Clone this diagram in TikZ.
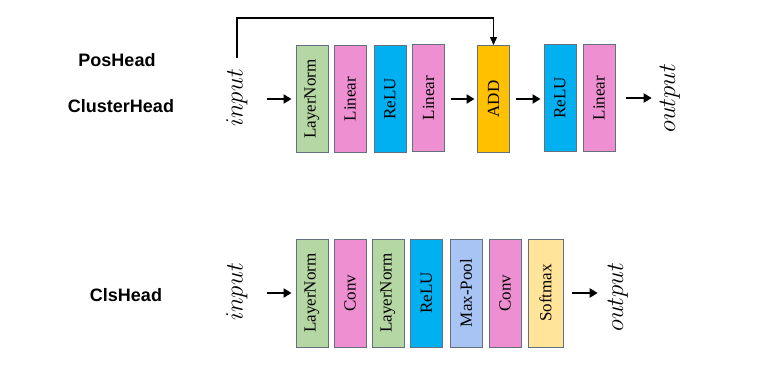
\documentclass[tikz,border=0pt]{standalone}
\usepackage{fontspec}
\setmainfont{Liberation Serif}
\newfontfamily\headfont{Liberation Sans}
\usetikzlibrary{arrows.meta}
\definecolor{boxline}{RGB}{100,112,126}
\definecolor{cgreen}{RGB}{181,215,164}
\definecolor{cpink}{RGB}{238,143,210}
\definecolor{cblue}{RGB}{0,176,240}
\definecolor{corange}{RGB}{255,192,0}
\definecolor{cpool}{RGB}{168,196,244}
\definecolor{csoft}{RGB}{255,228,153}
\begin{document}
\begin{tikzpicture}[x=1pt,y=1pt,
  blk/.style={draw=boxline, line width=0.9pt, minimum width=32pt, minimum height=107pt, inner sep=0pt, font=\fontsize{17}{20}\selectfont},
  arr/.style={-{Triangle[length=8pt,width=9pt]}, line width=2.2pt},
  fb/.style={-{Triangle[length=8pt,width=7pt]}, line width=1.2pt},
  head/.style={font=\headfont\bfseries\fontsize{18}{22}\selectfont, inner sep=0pt},
  io/.style={inner sep=0pt, font=\fontsize{24.88}{28}\selectfont}]
\useasboundingbox (0,0) rectangle (761,365);
% labels
\node[head] (h1) at (117,305) {PosHead};
\node[head] (h2) at (121,259) {ClusterHead};
\node[head] (h3) at (126,70) {ClsHead};
% top row
\node[io] (in1) at (237,267) {\rotatebox{90}{$input$}};
\node[blk, fill=cgreen] (a1) at (312,266) {\rotatebox{90}{LayerNorm}};
\node[blk, fill=cpink] (a2) at (350,266) {\rotatebox{90}{Linear}};
\node[blk, fill=cblue] (a3) at (390,266) {\rotatebox{90}{ReLU}};
\node[blk, fill=cpink] (a4) at (428.5,267) {\rotatebox{90}{Linear}};
\node[blk, fill=corange] (add) at (493.5,266) {\rotatebox{90}{ADD}};
\node[blk, fill=cblue] (a6) at (560,267) {\rotatebox{90}{ReLU}};
\node[blk, fill=cpink] (a7) at (599,267) {\rotatebox{90}{Linear}};
\node[io] (out1) at (670,267) {\rotatebox{90}{$output$}};
\coordinate (fbtop) at (237,347);
\draw[fb, shorten <=11pt] (in1.north) -- (in1.north |- fbtop) -| (add.north);
\draw[arr, shorten <=19pt, shorten >=4pt] (in1.east |- a1.west) -- (a1.west);
\draw[arr, shorten <=6.5pt, shorten >=2.5pt] (a4.east |- add.west) -- (add.west);
\draw[arr, shorten <=6.5pt, shorten >=3pt] (add.east) -- (a6.west |- add.east);
\draw[arr, shorten <=11pt, shorten >=8pt] (a7.east) -- (out1.west |- a7.east);
% bottom row
\node[io] (in2) at (237,73) {\rotatebox{90}{$input$}};
\node[blk, fill=cgreen, minimum height=108pt] (b1) at (312,72) {\rotatebox{90}{LayerNorm}};
\node[blk, fill=cpink, minimum height=108pt] (b2) at (350,72) {\rotatebox{90}{Conv}};
\node[blk, fill=cgreen, minimum height=108pt] (b3) at (388,72) {\rotatebox{90}{LayerNorm}};
\node[blk, fill=cblue, minimum height=108pt] (b4) at (426.5,72) {\rotatebox{90}{ReLU}};
\node[blk, fill=cpool, minimum height=108pt] (b5) at (466,72) {\rotatebox{90}{Max-Pool}};
\node[blk, fill=cpink, minimum height=108pt] (b6) at (505,72) {\rotatebox{90}{Conv}};
\node[blk, fill=csoft, minimum height=108pt, minimum width=35pt] (b7) at (545.5,72) {\rotatebox{90}{Softmax}};
\node[io] (out2) at (618,68) {\rotatebox{90}{$output$}};
\draw[arr, shorten <=19pt, shorten >=4pt] (in2.east |- b1.west) -- (b1.west);
\draw[arr, shorten <=9pt, shorten >=10pt] (b7.east) -- (out2.west |- b7.east);
\end{tikzpicture}
\end{document}
